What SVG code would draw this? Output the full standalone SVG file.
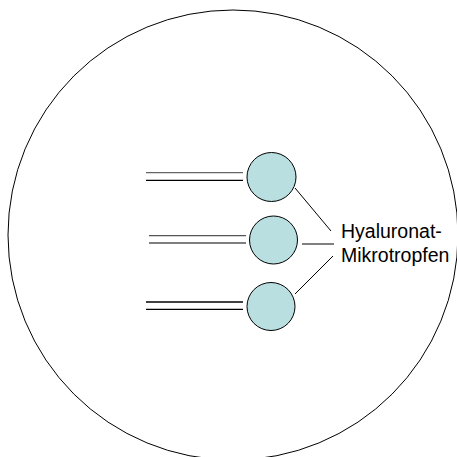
<svg xmlns="http://www.w3.org/2000/svg" width="457" height="457" viewBox="0 0 457 457">
<style>
.drop{fill:#b9dfe0;stroke:#000;stroke-width:1}
.conn{stroke:#000;stroke-width:1;fill:none}
.stem{stroke-width:1.3;fill:none}
.lbl{font-family:"Liberation Sans",Arial,sans-serif;font-size:19.5px;fill:#000}
</style>
<rect width="457" height="457" fill="#fff"/>
<ellipse id="cell" cx="233" cy="235" rx="225" ry="225" fill="none" stroke="#000" stroke-width="1"/>
<g id="stems">
<line class="stem" x1="146" y1="172.7" x2="243" y2="172.7" stroke="#666"/>
<line class="stem" x1="146" y1="180.3" x2="243" y2="180.3" stroke="#000"/>
<line class="stem" x1="149" y1="235.7" x2="246" y2="235.7" stroke="#555"/>
<line class="stem" x1="149" y1="243" x2="246" y2="243" stroke="#555"/>
<line class="stem" x1="146" y1="302" x2="243" y2="302" stroke="#000"/>
<line class="stem" x1="146" y1="309.3" x2="243" y2="309.3" stroke="#000"/>
</g>
<g id="drop1"><circle class="drop" cx="271.5" cy="177" r="24.5"/></g>
<g id="drop2"><circle class="drop" cx="273.5" cy="240" r="24"/></g>
<g id="drop3"><circle class="drop" cx="271" cy="306.5" r="24"/></g>
<g id="connectors">
<line class="conn" x1="295" y1="188" x2="331" y2="231"/>
<line class="conn" x1="302" y1="244" x2="334" y2="244"/>
<line class="conn" x1="295" y1="294" x2="333" y2="256"/>
</g>
<g id="label">
<text class="lbl" x="341" y="238.3">Hyaluronat-</text>
<text class="lbl" x="341" y="261.7">Mikrotropfen</text>
</g>
</svg>
